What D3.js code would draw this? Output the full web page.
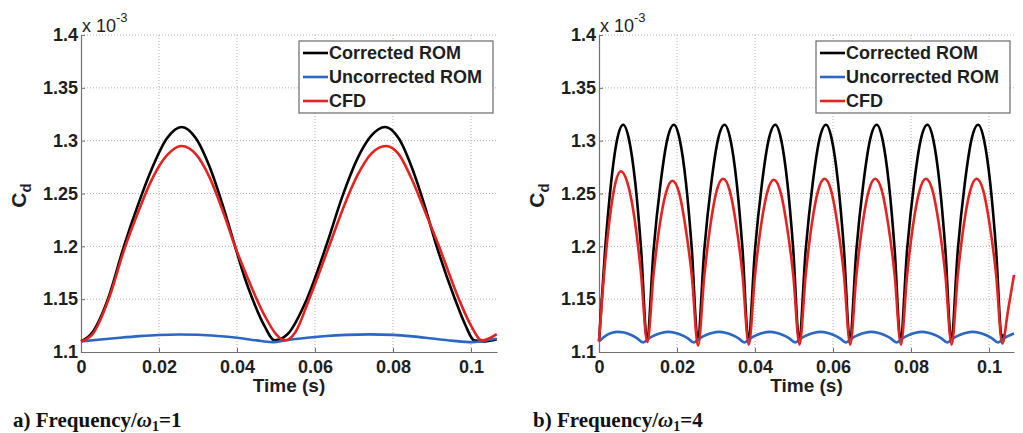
<!DOCTYPE html>
<html><head><meta charset="utf-8">
<script src="https://cdn.jsdelivr.net/npm/d3@7"></script>
<style>body{margin:0;background:#fff;} svg{display:block;}</style>
</head><body>
<svg id="c" width="1023" height="433"></svg>
<script>
// ---------- data (Cd values in units of 1e-3) ----------
const yTickValues = [1.1, 1.15, 1.2, 1.25, 1.3, 1.35, 1.4];
const yTickLabels = ["1.1", "1.15", "1.2", "1.25", "1.3", "1.35", "1.4"];
const xTickValues = [0, 0.02, 0.04, 0.06, 0.08, 0.1];
const xTickLabels = ["0", "0.02", "0.04", "0.06", "0.08", "0.1"];
const seriesNames = ["Corrected ROM", "Uncorrected ROM", "CFD"];
const seriesColors = ["#000000", "#2b68c2", "#e42320"];
const panelCaptions = ["a) Frequency/", "b) Frequency/"];
const panelCaptionValues = ["1", "4"];

// panel a) Frequency/w1 = 1
const aCorrectedT = [0, 0.003, 0.0069, 0.011, 0.0145, 0.018, 0.022, 0.0258, 0.0295, 0.033, 0.0365, 0.0395, 0.042, 0.044, 0.047, 0.0497, 0.053, 0.0579, 0.0631, 0.067, 0.071, 0.0745, 0.078, 0.0815, 0.085, 0.088, 0.0912, 0.0959, 0.0985, 0.1008, 0.1035, 0.1066];
const aCorrectedV = [1.110, 1.119, 1.150, 1.200, 1.238, 1.272, 1.302, 1.313, 1.302, 1.275, 1.237, 1.200, 1.170, 1.150, 1.125, 1.111, 1.117, 1.150, 1.203, 1.247, 1.284, 1.305, 1.313, 1.302, 1.273, 1.240, 1.200, 1.150, 1.126, 1.111, 1.110, 1.112];
const aUncorrectedT = [0, 0.005, 0.010, 0.015, 0.020, 0.025, 0.030, 0.035, 0.040, 0.045, 0.049, 0.053, 0.058, 0.063, 0.068, 0.074, 0.080, 0.085, 0.090, 0.095, 0.1002, 0.1035, 0.1066];
const aUncorrectedV = [1.110, 1.1118, 1.1135, 1.115, 1.1161, 1.1166, 1.1163, 1.1152, 1.1135, 1.111, 1.1093, 1.1113, 1.1135, 1.1152, 1.1162, 1.1167, 1.1162, 1.1148, 1.1128, 1.1108, 1.1093, 1.1108, 1.1125];
const aCfdT = [0, 0.003, 0.0071, 0.011, 0.0145, 0.018, 0.022, 0.0258, 0.0295, 0.033, 0.0365, 0.0395, 0.0433, 0.047, 0.050, 0.0523, 0.055, 0.0585, 0.0636, 0.067, 0.071, 0.0745, 0.0782, 0.0815, 0.085, 0.088, 0.0918, 0.0969, 0.100, 0.1028, 0.1066];
const aCfdV = [1.110, 1.117, 1.150, 1.196, 1.231, 1.262, 1.286, 1.295, 1.287, 1.265, 1.232, 1.200, 1.165, 1.135, 1.117, 1.111, 1.119, 1.150, 1.200, 1.234, 1.268, 1.288, 1.295, 1.287, 1.262, 1.235, 1.200, 1.150, 1.125, 1.111, 1.117];

// panel b) Frequency/w1 = 4
const bCorrectedT = [0, 0.00155, 0.0031, 0.00465, 0.0062, 0.0077, 0.0093, 0.0108,
  0.0123, 0.0140, 0.0158, 0.0175, 0.0192, 0.0207, 0.0223, 0.0238,
  0.0253, 0.0270, 0.0288, 0.0305, 0.0322, 0.0337, 0.0353, 0.0368,
  0.0383, 0.0400, 0.0418, 0.0435, 0.0452, 0.0467, 0.0483, 0.0498,
  0.0513, 0.0530, 0.0548, 0.0565, 0.0582, 0.0597, 0.0613, 0.0628,
  0.0643, 0.0660, 0.0678, 0.0695, 0.0712, 0.0727, 0.0743, 0.0758,
  0.0773, 0.0790, 0.0808, 0.0825, 0.0842, 0.0857, 0.0873, 0.0888,
  0.0903, 0.0920, 0.0938, 0.0955, 0.0972, 0.0987, 0.1003, 0.1018,
  0.1033, 0.1038];
const bCorrectedV = [1.110, 1.196, 1.260, 1.301, 1.315, 1.301, 1.260, 1.197,
  1.112, 1.197, 1.260, 1.301, 1.315, 1.301, 1.260, 1.197,
  1.112, 1.197, 1.260, 1.301, 1.315, 1.301, 1.260, 1.197,
  1.112, 1.197, 1.260, 1.301, 1.315, 1.301, 1.260, 1.197,
  1.112, 1.197, 1.260, 1.301, 1.315, 1.301, 1.260, 1.197,
  1.112, 1.197, 1.260, 1.301, 1.315, 1.301, 1.260, 1.197,
  1.112, 1.197, 1.260, 1.301, 1.315, 1.301, 1.260, 1.197,
  1.112, 1.197, 1.260, 1.301, 1.315, 1.301, 1.260, 1.197,
  1.112, 1.117];
const bUncorrectedT = [0, 0.0012, 0.0024, 0.0036, 0.0048, 0.0064, 0.0081, 0.0097,
  0.0113, 0.0129, 0.0146, 0.0162, 0.0178, 0.0194, 0.0210, 0.0227,
  0.0243, 0.0259, 0.0276, 0.0292, 0.0308, 0.0324, 0.0340, 0.0357,
  0.0373, 0.0389, 0.0406, 0.0422, 0.0438, 0.0454, 0.0470, 0.0487,
  0.0503, 0.0519, 0.0536, 0.0552, 0.0568, 0.0584, 0.0600, 0.0617,
  0.0633, 0.0649, 0.0666, 0.0682, 0.0698, 0.0714, 0.0730, 0.0747,
  0.0763, 0.0779, 0.0796, 0.0812, 0.0828, 0.0844, 0.0860, 0.0877,
  0.0893, 0.0909, 0.0926, 0.0942, 0.0958, 0.0974, 0.0990, 0.1007,
  0.1023, 0.1039, 0.1056, 0.1064];
const bUncorrectedV = [1.110, 1.114, 1.117, 1.1185, 1.119, 1.1185, 1.1163, 1.1132,
  1.109, 1.1132, 1.1163, 1.1183, 1.119, 1.1183, 1.1163, 1.1132,
  1.109, 1.1132, 1.1163, 1.1183, 1.119, 1.1183, 1.1163, 1.1132,
  1.109, 1.1132, 1.1163, 1.1183, 1.119, 1.1183, 1.1163, 1.1132,
  1.109, 1.1132, 1.1163, 1.1183, 1.119, 1.1183, 1.1163, 1.1132,
  1.109, 1.1132, 1.1163, 1.1183, 1.119, 1.1183, 1.1163, 1.1132,
  1.109, 1.1132, 1.1163, 1.1183, 1.119, 1.1183, 1.1163, 1.1132,
  1.109, 1.1132, 1.1163, 1.1183, 1.119, 1.1183, 1.1163, 1.1132,
  1.109, 1.1132, 1.1163, 1.1175];
const bCfdT = [0, 0.0014, 0.0028, 0.0042, 0.0056, 0.0073, 0.0090, 0.0107,
  0.0124, 0.0140, 0.0156, 0.0172, 0.0188, 0.0205, 0.0221, 0.0238,
  0.0254, 0.0270, 0.0286, 0.0302, 0.0318, 0.0335, 0.0351, 0.0368,
  0.0384, 0.0400, 0.0416, 0.0432, 0.0448, 0.0465, 0.0481, 0.0498,
  0.0514, 0.0530, 0.0546, 0.0562, 0.0578, 0.0595, 0.0611, 0.0628,
  0.0644, 0.0660, 0.0676, 0.0692, 0.0708, 0.0725, 0.0741, 0.0758,
  0.0774, 0.0790, 0.0806, 0.0822, 0.0838, 0.0855, 0.0871, 0.0888,
  0.0904, 0.0920, 0.0936, 0.0952, 0.0968, 0.0985, 0.1001, 0.1018,
  0.1034, 0.1049, 0.1064];
const bCfdV = [1.110, 1.178, 1.228, 1.260, 1.271, 1.260, 1.229, 1.177,
  1.1095, 1.174, 1.221, 1.251, 1.262, 1.251, 1.220, 1.172,
  1.106, 1.172, 1.221, 1.253, 1.264, 1.253, 1.222, 1.173,
  1.107, 1.173, 1.221, 1.252, 1.263, 1.252, 1.221, 1.173,
  1.107, 1.173, 1.222, 1.253, 1.264, 1.253, 1.222, 1.173,
  1.107, 1.173, 1.222, 1.253, 1.264, 1.253, 1.222, 1.173,
  1.107, 1.173, 1.222, 1.253, 1.264, 1.253, 1.222, 1.173,
  1.107, 1.173, 1.222, 1.253, 1.264, 1.253, 1.222, 1.174,
  1.108, 1.140, 1.173];

// ---------- layout ----------
const svg = d3.select("#c");
const yTop = 35, yBottom = 352;
const panels = [
  { left: 81, right: 497, xMax: 0.10667, caption: panelCaptions[0], capVal: panelCaptionValues[0], capX: 13, ylabX: 26,
    series: [[aCorrectedT, aCorrectedV], [aUncorrectedT, aUncorrectedV], [aCfdT, aCfdV]] },
  { left: 599, right: 1014, xMax: 0.1064, caption: panelCaptions[1], capVal: panelCaptionValues[1], capX: 533, ylabX: 544,
    series: [[bCorrectedT, bCorrectedV], [bUncorrectedT, bUncorrectedV], [bCfdT, bCfdV]] }
];
const sansBold = "'Liberation Sans', Arial, Helvetica, sans-serif";

panels.forEach(p => {
  const x = d3.scaleLinear().domain([0, p.xMax]).range([p.left, p.right]);
  const y = d3.scaleLinear().domain([1.1, 1.4]).range([yBottom, yTop]);
  const g = svg.append("g");

  // grid
  g.append("g").selectAll("line").data(xTickValues.filter(d => d > 0)).join("line")
    .attr("x1", d => x(d)).attr("x2", d => x(d)).attr("y1", yTop).attr("y2", yBottom)
    .attr("stroke", "#b0b0b0").attr("stroke-width", 1).attr("stroke-dasharray", "1,2");
  g.append("g").selectAll("line").data(yTickValues.filter(d => d > 1.1)).join("line")
    .attr("x1", p.left).attr("x2", p.right).attr("y1", d => y(d)).attr("y2", d => y(d))
    .attr("stroke", "#b0b0b0").attr("stroke-width", 1).attr("stroke-dasharray", "1,2");

  // axes
  const ax = g.append("g").attr("transform", `translate(0,${yBottom})`)
    .call(d3.axisBottom(x).tickValues(xTickValues).tickFormat((d, i) => xTickLabels[i])
      .tickSizeInner(-4).tickSizeOuter(0).tickPadding(8));
  const ay = g.append("g").attr("transform", `translate(${p.left},0)`)
    .call(d3.axisLeft(y).tickValues(yTickValues).tickFormat((d, i) => yTickLabels[i])
      .tickSizeInner(-4).tickSizeOuter(0).tickPadding(3));
  [ax, ay].forEach(a => {
    a.select(".domain").attr("stroke", "#707070").attr("stroke-width", 1.2);
    a.selectAll(".tick line").attr("stroke", "#707070");
    a.selectAll("text").attr("font-family", sansBold).attr("font-weight", "bold")
      .attr("font-size", 18).attr("fill", "#1e1e1e");
  });

  // lines
  const line = d3.line().x(d => x(d[0])).y(d => y(d[1])).curve(d3.curveMonotoneX);
  p.series.forEach((s, i) => {
    const pts = s[0].map((t, k) => [t, s[1][k]]);
    g.append("path").datum(pts).attr("d", line).attr("fill", "none")
      .attr("stroke", seriesColors[i]).attr("stroke-width", 2.6).attr("stroke-linejoin", "round");
  });

  // exponent label
  const ex = g.append("text").attr("x", p.left + 1).attr("y", 32)
    .attr("font-family", "'Liberation Sans', Arial, sans-serif").attr("font-size", 18).attr("fill", "#222");
  ex.append("tspan").text("x 10");
  ex.append("tspan").attr("dy", -10).attr("font-size", 13).text("-3");

  // axis titles
  g.append("text").attr("x", (p.left + p.right) / 2).attr("y", 392).attr("text-anchor", "middle")
    .attr("font-family", sansBold).attr("font-weight", "bold").attr("font-size", 19).attr("fill", "#1e1e1e")
    .text("Time (s)");
  const yl = g.append("text").attr("transform", `translate(${p.ylabX},${(yTop + yBottom) / 2 + 2}) rotate(-90)`)
    .attr("text-anchor", "middle").attr("font-family", sansBold).attr("font-weight", "bold")
    .attr("font-size", 21).attr("fill", "#1e1e1e");
  yl.append("tspan").text("C");
  yl.append("tspan").attr("dy", 5).attr("font-size", 15).text("d");

  // legend
  const lg = g.append("g").attr("transform", `translate(${p.right - 198},41)`);
  lg.append("rect").attr("width", 194).attr("height", 72).attr("fill", "#fff")
    .attr("stroke", "#6a6a6a").attr("stroke-width", 1.2);
  seriesNames.forEach((n, i) => {
    const yy = 12 + i * 24;
    lg.append("line").attr("x1", 4).attr("x2", 29).attr("y1", yy).attr("y2", yy)
      .attr("stroke", seriesColors[i]).attr("stroke-width", 2.6);
    lg.append("text").attr("x", 30).attr("y", yy).attr("dy", "0.36em")
      .attr("font-family", sansBold).attr("font-weight", "bold").attr("font-size", 18)
      .attr("fill", "#1e1e1e").text(n);
  });

  // caption
  const cap = svg.append("text").attr("x", p.capX).attr("y", 427)
    .attr("font-family", "'Liberation Serif', 'Times New Roman', serif").attr("font-weight", "bold")
    .attr("font-size", 21).attr("fill", "#111");
  cap.append("tspan").text(p.caption);
  cap.append("tspan").attr("font-style", "italic").text("ω");
  cap.append("tspan").attr("dy", 4).attr("font-size", 14).text("1");
  cap.append("tspan").attr("dy", -4).text("=" + p.capVal);
});
</script>
</body></html>
